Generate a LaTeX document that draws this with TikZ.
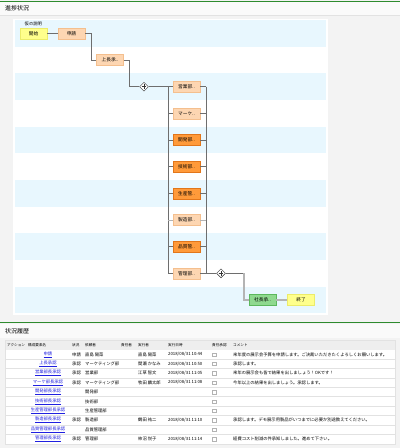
\documentclass[tikz,border=0pt]{standalone}
\usepackage{fontspec}
\setmainfont{Noto Sans CJK JP}
\usetikzlibrary{shapes.geometric,positioning}
\definecolor{hinter}{HTML}{F3F3F3}
\definecolor{streifen}{HTML}{E8F7FE}
\definecolor{pfirsich}{HTML}{FDD6B2}
\definecolor{pfirsichrand}{HTML}{F4BF8E}
\definecolor{orangefarbe}{HTML}{FF9A3A}
\definecolor{orangerand}{HTML}{E2761A}
\definecolor{gruenfarbe}{HTML}{8FD98F}
\definecolor{gruenrand}{HTML}{5CB85C}
\definecolor{gelbfarbe}{HTML}{FFFF8C}
\definecolor{gelbrand}{HTML}{ECEC6A}
\definecolor{linie}{HTML}{6E6E6E}
\definecolor{hellinie}{HTML}{B4B4B4}
\definecolor{linkblau}{HTML}{2020E0}
\definecolor{balken}{HTML}{2E8B2E}
\definecolor{gitter}{HTML}{E2E2E2}
\begin{document}
\begin{tikzpicture}[x=1pt, y=-1pt,
			box/.style={draw=pfirsichrand, fill=pfirsich, minimum width=27pt, minimum height=11pt, inner sep=0pt, font=\fontsize{4.7}{6}\selectfont},
			aktiv/.style={box, draw=orangerand, fill=orangefarbe},
			chefbox/.style={box, draw=gruenrand, fill=gruenfarbe},
			rand/.style={box, draw=gelbrand, fill=gelbfarbe},
			weiche/.style={draw=black!80, fill=white, diamond, minimum size=9pt, inner sep=0pt},
			verb/.style={draw=linie, line width=0.7pt},
			hell/.style={draw=hellinie, line width=1.3pt},
			klein/.style={font=\fontsize{4.3}{5}\selectfont, inner sep=0pt},
			spalte/.style={font=\fontsize{3.6}{5}\selectfont, inner sep=0pt}]
			\useasboundingbox (0,0) rectangle (400,448);
			%Hintergrund
			\fill[hinter] (0,0) rectangle (400,448);
			\fill[white!60!hinter] (0,2) rectangle (400,15);
			\draw[gitter] (0,15.5) -- (400,15.5);
			\draw[balken, line width=1pt] (0,1) -- (400,1);
			\node[anchor=west, inner sep=0pt, font=\fontsize{6}{7}\selectfont] (titel1) at (5,8.5) {進捗状況};
			%Zeichenflaeche mit Streifen
			\fill[white] (13,19) rectangle (328,315);
			\foreach \i in {0,...,5} \fill[streifen] (15,20+53.33*\i) rectangle (326,46.67+53.33*\i);
			\node[klein, anchor=west] (info) at (24.5,23.5) {仮の説明};
			%Knoten
			\node[rand] (start) at (33.5,33.3) {開始};
			\node[box] (antrag) at (71.5,33.3) {申請};
			\node[box] (vorg) at (110,60) {上長承..};
			\node[weiche] (g1) at (144,86.7) {};
			\foreach \name/\art [count=\i from 0] in {営業部../box, マーケ../box, 開発部../aktiv, 技術部../aktiv, 生産管../aktiv, 製造部../box, 品質管../aktiv, 管理部../box}
				\node[\art] (d\i) at (186.5,86.7+26.67*\i) {\name};
			\node[weiche] (g2) at (221,273.3) {};
			\node[chefbox] (chef) at (262.5,300) {社長承..};
			\node[rand] (ende) at (301,300) {終了};
			%Kreuze in den Weichen
			\foreach \g in {g1,g2} {
				\draw[black!80, line width=0.5pt] ([yshift=-2.3pt]\g.center) -- ([yshift=2.3pt]\g.center);
				\draw[black!80, line width=0.5pt] ([xshift=-2.3pt]\g.center) -- ([xshift=2.3pt]\g.center);
			}
			%Verbindungen
			\coordinate (lo) at (168,86.7);
			\coordinate (lu) at (168,273.3);
			\coordinate (ro) at (206,86.7);
			\coordinate (ru) at (206,273.3);
			\coordinate (knick) at (244,273.3);
			\draw[verb] (start) -- (antrag);
			\draw[verb] (antrag.east) -- ++(6,0) |- (vorg.west);
			\draw[verb] (vorg.east) -- ++(5.5,0) |- (g1.west);
			\draw[verb] (g1.east) -- (lo);
			\draw[verb] (lo) -- (lu);
			\draw[verb] (ro) -- (ru);
			\foreach \i in {0,...,7} {
				\draw[verb] (d\i.west -| lo) -- (d\i.west);
				\draw[verb] (d\i.east) -- (d\i.east -| ro);
			}
			\draw[hell, line width=0.9pt] (d5.west -| lo) -- (d5.west) (d5.east) -- (d5.east -| ro);
			\draw[verb] (ru) -- (g2.west);
			\draw[verb] (g2.east) -- (knick);
			\draw[hell] (knick) |- (chef.west);
			\draw[hell] (chef) -- (ende);
			%Verlauf (unten)
			\draw[balken, line width=1pt] (0,322.5) -- (400,322.5);
			\fill[white!60!hinter] (0,323.5) rectangle (400,338);
			\node[anchor=west, inner sep=0pt, font=\fontsize{6}{7}\selectfont] (titel2) at (5,331) {状況履歴};
			\fill[white, draw=gitter] (5,340) rectangle (395,443.8);
			\fill[gitter!60] (5.5,340.5) rectangle (394.5,349.6);
			\foreach \i in {1,...,9} \draw[gitter] (5,349.6+9.41*\i) -- (395,349.6+9.41*\i);
			%Spaltenkoepfe
			\foreach \txt/\x in {アクション/7, 構成要素名/28, 状況/72, 依頼者/85, 責任者/121, 実行者/138, 実行日時/168, 責任承認/212, コメント/233}
				\node[spalte, anchor=west] (kopf\x) at (\x,345) {\txt};
			%Zeilen mit Eintrag
			\foreach \nr/\name/\stat/\dep/\wer/\zeit/\kom in {
				1/申請/申請/直島 陽菜/直島 陽菜/10:44/来年度の展示会予算を申請します。ご決裁いただきたくよろしくお願いします。,
				2/上長承認/承認/マーケティング部/間瀬 かなみ/10:50/承認します。,
				3/営業部長承認/承認/営業部/江草 智文/11:05/来年の展示会も皆で結果を出しましょう！OKです！,
				4/マーケ部長承認/承認/マーケティング部/牧田 麟太郎/11:08/今年以上の結果を出しましょう。承認します。,
				8/製造部長承認/承認/製造部/鶴田 祐二/11:10/承認します。デモ展示用製品がいつまでに必要か別途教えてください。,
				10/管理部長承認/承認/管理部/柿沼 悦子/11:14/経費コスト削減の件承知しました。進めて下さい。} {
				\node[klein, text=linkblau] (n\nr) at (48,345+9.41*\nr) {\underline{\name}};
				\node[klein, anchor=west] (s\nr) at (72,345+9.41*\nr) {\stat};
				\node[klein, anchor=west] (a\nr) at (85,345+9.41*\nr) {\dep};
				\node[klein, anchor=west] (w\nr) at (138,345+9.41*\nr) {\wer};
				\node[klein, anchor=west] (z\nr) at (168,345+9.41*\nr) {2018/08/31 \zeit};
				\node[klein, anchor=west] (k\nr) at (233,345+9.41*\nr) {\kom};
			}
			%Zeilen ohne Eintrag
			\foreach \nr/\name/\dep in {5/開発部長承認/開発部, 6/技術部長承認/技術部, 7/生産管理部長承認/生産管理部, 9/品質管理部長承認/品質管理部} {
				\node[klein, text=linkblau] (n\nr) at (48,345+9.41*\nr) {\underline{\name}};
				\node[klein, anchor=west] (a\nr) at (85,345+9.41*\nr) {\dep};
			}
			%Kontrollkaestchen
			\foreach \nr in {1,...,10}
				\draw[black!30, fill=white, line width=0.3pt] (212.5,343.3+9.41*\nr) rectangle ++(3.4,3.4);
		\end{tikzpicture}
\end{document}
